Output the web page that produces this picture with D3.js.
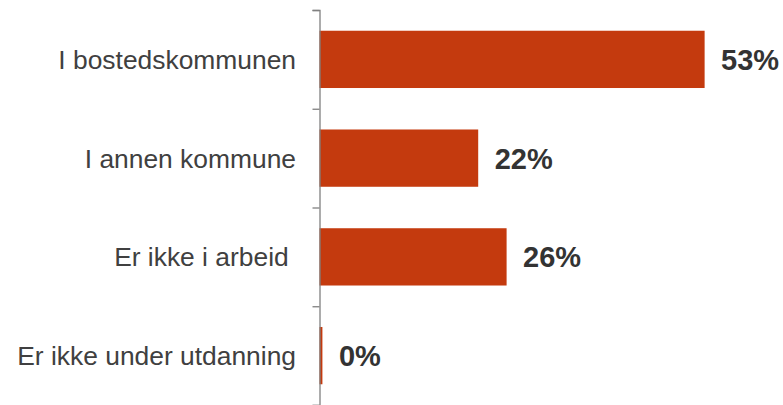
<!DOCTYPE html>
<html>
<head>
<meta charset="utf-8">
<script src="https://cdn.jsdelivr.net/npm/d3@7"></script>
<style>
  html, body { margin: 0; padding: 0; background: #ffffff; }
  svg { display: block; }
</style>
</head>
<body>
<svg id="chart" width="783" height="405"></svg>
<script>
const categories = ["I bostedskommunen", "I annen kommune", "Er ikke i arbeid ", "Er ikke under utdanning"];
const values = [52.9, 21.8, 25.7, 0.4];
const valueLabels = ["53%", "22%", "26%", "0%"];

const svg = d3.select("#chart");
const x0 = 319.5;
const x = d3.scaleLinear().domain([0, 60]).range([x0, x0 + 60 * 7.28]);
const y = d3.scaleBand().domain(categories).range([10, 405]).paddingInner(0.42).paddingOuter(0.21);

const data = categories.map((c, i) => ({ c, v: values[i], l: valueLabels[i] }));

svg.selectAll("rect.bar").data(data).enter().append("rect")
  .attr("class", "bar")
  .attr("x", x(0))
  .attr("y", d => y(d.c))
  .attr("width", d => x(d.v) - x(0))
  .attr("height", y.bandwidth())
  .attr("fill", "#c43a0e");

// axis
const yAxisScale = d3.scaleLinear().domain([0, categories.length]).range([10, 405]);
const axis = d3.axisLeft(yAxisScale).ticks(categories.length).tickSize(7).tickFormat("");
const ag = svg.append("g").attr("transform", `translate(${x0},0)`).call(axis);
ag.select(".domain").attr("stroke", "#808080").attr("stroke-width", 1.3);
ag.selectAll(".tick line").attr("stroke", "#808080").attr("stroke-width", 1.3);

// category labels
svg.selectAll("text.cat").data(data).enter().append("text")
  .attr("class", "cat")
  .attr("x", 296)
  .attr("y", d => y(d.c) + y.bandwidth() / 2)
  .attr("dy", "0.36em")
  .attr("text-anchor", "end")
  .attr("font-family", "Liberation Sans, Arial, sans-serif")
  .attr("font-size", 26.4)
  .attr("fill", "#404040")
  .style("white-space", "pre")
  .text(d => d.c);

// value labels
svg.selectAll("text.val").data(data).enter().append("text")
  .attr("class", "val")
  .attr("x", d => x(d.v) + 16.5)
  .attr("y", d => y(d.c) + y.bandwidth() / 2)
  .attr("dy", "0.36em")
  .attr("font-family", "Liberation Sans, Arial, sans-serif")
  .attr("font-weight", "bold")
  .attr("font-size", 29)
  .attr("fill", "#333333")
  .text(d => d.l);
</script>
</body>
</html>
